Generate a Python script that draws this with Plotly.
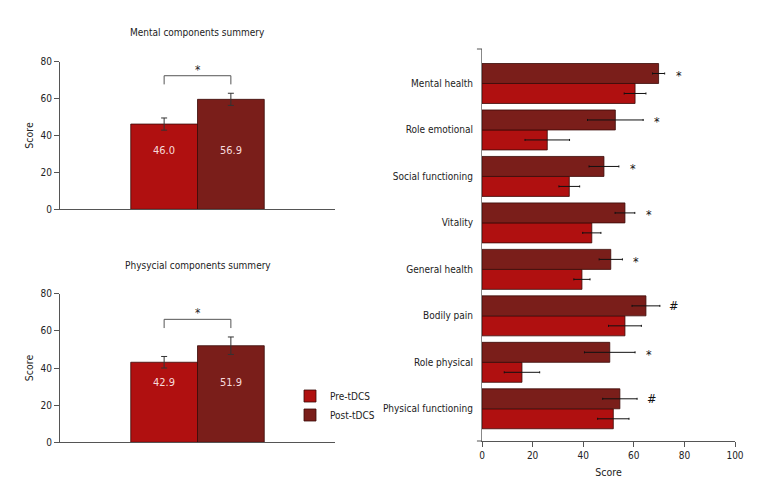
import plotly.graph_objects as go

# ---------------- data ----------------
groups = ["Pre-tDCS", "Post-tDCS"]

mcs_values = [46.2, 59.6]
mcs_errors = [3.3, 3.3]
mcs_labels = ["46.0", "56.9"]

pcs_values = [43.1, 52.0]
pcs_errors = [3.1, 4.7]
pcs_labels = ["42.9", "51.9"]

domains = ["Mental health", "Role emotional", "Social functioning", "Vitality",
           "General health", "Bodily pain", "Role physical", "Physical functioning"]
pre_values = [60.5, 25.8, 34.5, 43.4, 39.5, 56.5, 15.8, 51.9]
pre_errors = [4.3, 8.8, 4.1, 3.6, 3.2, 6.5, 7.0, 6.2]
post_values = [69.8, 52.7, 48.2, 56.5, 50.9, 64.8, 50.5, 54.5]
post_errors = [2.4, 11.0, 5.9, 3.9, 4.6, 5.5, 10.0, 6.8]
significance = ["*", "*", "*", "*", "*", "#", "*", "#"]

x_ticks = [0, 20, 40, 60, 80, 100]
y_ticks_left = [0, 20, 40, 60, 80]

# ---------------- style ----------------
FONT = "DejaVu Sans Condensed, Liberation Sans Narrow, Arial Narrow, sans-serif"
FS = 10
PRE_COLOR = "#b01010"
POST_COLOR = "#7a1e1a"
EDGE = "#3a0a08"
AXIS = "#555555"
TXT = "#222222"
W, H = 768, 504
OFF = 8  # page body margin offset


def px_x(p):
    return (p - OFF) / W


def px_y(p):
    return 1 - (p - OFF) / H


fig = go.Figure()

colors = [PRE_COLOR, POST_COLOR]

# ---- left summary charts ----
for ax, vals, errs, labels in [("", mcs_values, mcs_errors, mcs_labels),
                               ("2", pcs_values, pcs_errors, pcs_labels)]:
    for i, g in enumerate(groups):
        fig.add_trace(go.Bar(
            x=[i], y=[vals[i]], width=1, offset=-0.5,
            marker=dict(color=colors[i], line=dict(color=EDGE, width=0.8)),
            error_y=dict(type="data", array=[errs[i]], color="#333333",
                         thickness=1, width=3),
            xaxis="x" + ax, yaxis="y" + ax, showlegend=False, name=g,
            hoverinfo="skip"))
        fig.add_annotation(x=i, y=32, text=labels[i], showarrow=False,
                           xref="x" + ax, yref="y" + ax,
                           xanchor="center", yanchor="middle",
                           font=dict(family=FONT, size=11, color="#f6dada"))
    top = max(v + e for v, e in zip(vals, errs)) + 9.5
    leg = top - 4.7
    fig.add_trace(go.Scatter(
        x=[0, 0, 1, 1], y=[leg, top, top, leg], mode="lines",
        line=dict(color="#555555", width=1), xaxis="x" + ax, yaxis="y" + ax,
        showlegend=False, hoverinfo="skip", cliponaxis=False))
    fig.add_annotation(x=0.5, y=top, text="*", showarrow=False,
                       xref="x" + ax, yref="y" + ax, xanchor="center",
                       yanchor="bottom", yshift=-3,
                       font=dict(family=FONT, size=12, color=TXT))

# ---- right chart ----
fig.add_trace(go.Bar(
    y=domains, x=pre_values, orientation="h", name="Pre-tDCS",
    marker=dict(color=PRE_COLOR, line=dict(color=EDGE, width=0.8)),
    error_x=dict(type="data", array=pre_errors, color="#111111", thickness=1, width=1),
    xaxis="x3", yaxis="y3"))
fig.add_trace(go.Bar(
    y=domains, x=post_values, orientation="h", name="Post-tDCS",
    marker=dict(color=POST_COLOR, line=dict(color=EDGE, width=0.8)),
    error_x=dict(type="data", array=post_errors, color="#111111", thickness=1, width=1),
    xaxis="x3", yaxis="y3"))

for d, v, e, s in zip(domains, post_values, post_errors, significance):
    fig.add_annotation(x=v + e, y=d, text=s, showarrow=False, xref="x3", yref="y3",
                       xanchor="center", yanchor="middle",
                       xshift=14, yshift=8 if s == "*" else 10,
                       font=dict(family=FONT, size=12.5, color="#111111"))

# titles
fig.add_annotation(x=px_x(197.5), y=px_y(32), xref="paper", yref="paper",
                   xanchor="center", yanchor="middle",
                   text="Mental components summery", showarrow=False,
                   font=dict(family=FONT, size=10, color=TXT))
fig.add_annotation(x=px_x(197.5), y=px_y(265), xref="paper", yref="paper",
                   xanchor="center", yanchor="middle",
                   text="Physycial components summery", showarrow=False,
                   font=dict(family=FONT, size=10, color=TXT))

# axis end ticks on right chart y axis
for yy in (0, 1):
    fig.add_shape(type="line", xref="x3 domain", yref="y3 domain",
                  x0=-0.02, x1=0, y0=yy, y1=yy, line=dict(color=AXIS, width=1))

tickfont = dict(family=FONT, size=FS, color=TXT)
titlefont = dict(family=FONT, size=10.5, color=TXT)
left_x = dict(domain=[px_x(60), px_x(335)], range=[-1.56, 2.56], showgrid=False,
              zeroline=False, showline=True, linecolor=AXIS, linewidth=1,
              showticklabels=False, ticks="", automargin=False)
left_y = dict(range=[0, 80], tickvals=y_ticks_left, showgrid=False, zeroline=False,
              showline=True, linecolor=AXIS, linewidth=1, ticks="outside", ticklen=5,
              tickcolor=AXIS, tickfont=tickfont, automargin=False,
              title=dict(text="Score", font=titlefont, standoff=4))

cat_order = list(reversed(domains))

fig.update_layout(
    width=W, height=H,
    margin=dict(l=0, r=0, t=0, b=0, autoexpand=False),
    paper_bgcolor="white", plot_bgcolor="white",
    font=dict(family=FONT, size=FS, color=TXT),
    barmode="group", bargap=0.14, bargroupgap=0,
    xaxis=dict(left_x, anchor="y"),
    yaxis=dict(left_y, domain=[px_y(209.3), px_y(61.7)], anchor="x"),
    xaxis2=dict(left_x, anchor="y2"),
    yaxis2=dict(left_y, domain=[px_y(442.3), px_y(293.7)], anchor="x2"),
    xaxis3=dict(domain=[px_x(482), px_x(735)], range=[0, 100], tickvals=x_ticks,
                anchor="y3", showgrid=False, zeroline=False, showline=True,
                linecolor=AXIS, linewidth=1, ticks="outside", ticklen=5,
                tickcolor=AXIS, tickfont=tickfont, automargin=False,
                title=dict(text="Score", font=titlefont, standoff=8)),
    yaxis3=dict(domain=[px_y(441), px_y(49)], anchor="x3",
                categoryorder="array", categoryarray=cat_order,
                range=[-0.693, 7.742], showgrid=False, zeroline=False,
                showline=True, linecolor="#888888", linewidth=1, ticks="",
                ticklabelstandoff=6, tickfont=tickfont, automargin=False),
    legend=dict(x=px_x(290), y=px_y(381.5), xanchor="left", yanchor="top",
                font=dict(family=FONT, size=FS, color=TXT),
                bgcolor="rgba(0,0,0,0)", itemwidth=30, traceorder="normal"),
)

fig.write_html("out.html")
